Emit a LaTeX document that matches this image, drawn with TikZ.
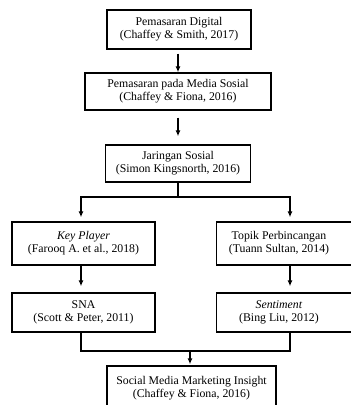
\documentclass[tikz,border=0pt]{standalone}
\usepackage{fontspec}
\setmainfont{Liberation Serif}
\usetikzlibrary{arrows.meta}
\begin{document}
\begin{tikzpicture}[x=1pt,y=-1pt,
  box/.style={draw, line width=1.3pt, rectangle, inner sep=0pt, align=center,
    font=\fontsize{11.8}{13}\selectfont},
  arr/.style={line width=1.2pt, -{Latex[length=6pt,width=5pt]}},
  ln/.style={line width=1.2pt}]
\useasboundingbox (0,0) rectangle (351,405);
\fill[white] (0,0) rectangle (351,405);
\clip (0,0) rectangle (351,405);
\node[box, minimum width=144pt, minimum height=39pt] (b1) at (179,29.5) {Pemasaran Digital\\(Chaffey \& Smith, 2017)};
\node[box, minimum width=186pt, minimum height=37pt] (b2) at (178,91.5) {Pemasaran pada Media Sosial\\(Chaffey \& Fiona, 2016)};
\node[box, minimum width=145pt, minimum height=37pt] (b3) at (178,163.5) {Jaringan Sosial\\(Simon Kingsnorth, 2016)};
\node[box, minimum width=143pt, minimum height=43pt] (b4) at (83.5,243.5) {\textit{Key Player}\\(Farooq A. et al., 2018)};
\node[box, minimum width=143pt, minimum height=43pt] (b5) at (288,243.5) {\begin{tabular}{@{}c@{}}Topik Perbincangan\\(Tuann Sultan, 2014)\end{tabular}\hspace{18pt}};
\node[box, minimum width=143pt, minimum height=39pt] (b6) at (83.5,312.5) {SNA\\(Scott \& Peter, 2011)};
\node[box, minimum width=143pt, minimum height=39pt] (b7) at (288,312.5) {\begin{tabular}{@{}c@{}}\textit{Sentiment}\\(Bing Liu, 2012)\end{tabular}\hspace{18pt}};
\node[box, minimum width=169pt, minimum height=44pt] (b8) at (191.5,388) {Social Media Marketing Insight\\(Chaffey \& Fiona, 2016)};
\coordinate (j1) at (178,197);
\coordinate (j2) at (190,351);
\draw[arr, shorten <=4pt] (b1.south -| b2.north) -- (b2.north);
\draw[arr, shorten <=7pt, shorten >=8pt] (b2.south) -- (b3.north);
\draw[ln] (b3.south) -- (j1);
\draw[arr, shorten >=4pt] (j1) -| (b4.north -| 81,0);
\draw[arr, shorten >=4pt] (j1) -| (b5.north -| 290,0);
\draw[arr, shorten >=6pt] (b4.south -| 81,0) -- (b6.north -| 81,0);
\draw[arr, shorten >=6pt] (b5.south -| 290,0) -- (b7.north -| 290,0);
\draw[ln] (b6.south -| 81,0) |- (j2);
\draw[ln] (b7.south -| 290,0) |- (j2);
\draw[arr, shorten >=1pt] (j2) -- (b8.north -| j2);
\end{tikzpicture}
\end{document}
